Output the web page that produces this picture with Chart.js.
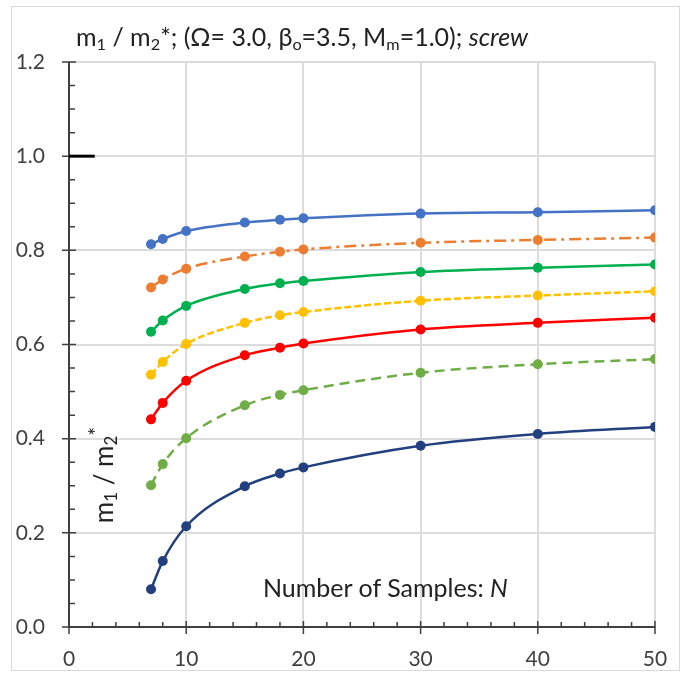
<!DOCTYPE html>
<html>
<head>
<meta charset="utf-8">
<script src="https://cdn.jsdelivr.net/npm/chart.js@4.4.1/dist/chart.umd.min.js"></script>
<style>
  html, body { margin: 0; padding: 0; background: #fff; }
  #wrap { position: relative; width: 689px; height: 673px; font-family: Lato, "Open Sans", sans-serif; color: #222; }
  #frame { position: absolute; left: 11px; top: 6px; width: 669px; height: 665px; border: 1px solid #d9d9d9; box-sizing: border-box; }
  canvas { position: absolute; left: 0; top: 0; }
  .txt { position: absolute; white-space: nowrap; }
  #title { left: 76px; top: 21px; font-size: 25px; line-height: 30px; }
  #xlab { left: 263px; top: 572px; font-size: 25px; line-height: 30px; }
  #ylab { left: 38px; top: 460px; width: 130px; text-align: center; font-size: 26px; line-height: 30px; transform: rotate(-90deg); }
  sub { font-size: 65%; vertical-align: -0.25em; line-height: 0; }
  sup { font-size: 80%; vertical-align: 0.45em; line-height: 0; }
</style>
</head>
<body>
<div id="wrap">
  <div id="frame"></div>
  <canvas id="chart" width="689" height="673"></canvas>
  <div class="txt" id="title">m<sub>1</sub> / m<sub>2</sub>*; (&Omega;= 3.0, &beta;<sub>o</sub>=3.5, M<sub>m</sub>=1.0); <i>screw</i></div>
  <div class="txt" id="xlab">Number of Samples: <i>N</i></div>
  <div class="txt" id="ylab">m<sub>1</sub> / m<sub>2</sub><sup>*</sup></div>
</div>
<script>
// sample counts on the x axis
const samples = [7, 8, 10, 15, 18, 20, 30, 40, 50];

// ratio m1/m2* for each curve, top to bottom
const blueVals    = [0.813, 0.824, 0.841, 0.859, 0.865, 0.868, 0.878, 0.881, 0.885];
const orangeVals  = [0.721, 0.738, 0.761, 0.787, 0.797, 0.802, 0.816, 0.822, 0.827];
const greenVals   = [0.627, 0.651, 0.682, 0.718, 0.730, 0.735, 0.754, 0.763, 0.770];
const yellowVals  = [0.536, 0.563, 0.601, 0.646, 0.662, 0.669, 0.693, 0.704, 0.713];
const redVals     = [0.441, 0.476, 0.523, 0.577, 0.593, 0.602, 0.632, 0.646, 0.657];
const ltGreenVals = [0.301, 0.346, 0.401, 0.471, 0.493, 0.503, 0.540, 0.558, 0.569];
const navyVals    = [0.080, 0.140, 0.214, 0.299, 0.326, 0.339, 0.385, 0.410, 0.425];

// reference mark at 1.0
const refX = [0, 2.2];
const refY = [1.0, 1.0];

const xTicks = [0, 10, 20, 30, 40, 50];
const yTicks = [0, 0.2, 0.4, 0.6, 0.8, 1.0, 1.2];

const pts = vals => vals.map((v, i) => ({x: samples[i], y: v}));

function series(vals, color, dash) {
    return {
        data: pts(vals),
        borderColor: color,
        backgroundColor: color,
        borderWidth: 2.5,
        borderDash: dash,
        pointRadius: 5,
        pointHoverRadius: 5,
        pointBorderWidth: 0,
        cubicInterpolationMode: 'monotone'
    };
}

const AXIS = '#404040';

// axis lines with major/minor tick marks
const axesPlugin = {
    id: 'axes',
    beforeDatasetsDraw(chart) {
        const {ctx, scales: {x, y}} = chart;
        const x0 = x.getPixelForValue(0), y0 = y.getPixelForValue(0);
        ctx.save();
        ctx.strokeStyle = AXIS;
        ctx.lineWidth = 2;
        ctx.beginPath();
        ctx.moveTo(x0, y.getPixelForValue(1.2));
        ctx.lineTo(x0, y0);
        ctx.lineTo(x.getPixelForValue(50), y0);
        ctx.stroke();
        ctx.lineWidth = 1.5;
        ctx.beginPath();
        for (let v = 0; v <= 50.001; v += 2) {
            const px = x.getPixelForValue(v);
            if (v % 10 === 0) { ctx.moveTo(px, y0 - 6); ctx.lineTo(px, y0 + 7); }
            else { ctx.moveTo(px, y0 - 5); ctx.lineTo(px, y0); }
        }
        for (let k = 0; k <= 24; k++) {
            const py = y.getPixelForValue(k * 0.05);
            if (k % 4 === 0) { ctx.moveTo(x0 - 7, py); ctx.lineTo(x0 + 7, py); }
            else { ctx.moveTo(x0, py); ctx.lineTo(x0 + 6, py); }
        }
        ctx.stroke();
        ctx.restore();
    }
};

new Chart(document.getElementById('chart'), {
    type: 'line',
    data: {
        datasets: [
            {
                data: refX.map((v, i) => ({x: v, y: refY[i]})),
                borderColor: '#000',
                borderWidth: 3,
                pointRadius: 0,
                borderCapStyle: 'butt'
            },
            series(blueVals, '#4472C4', []),
            series(orangeVals, '#ED7D31', [12, 5, 3, 5]),
            series(greenVals, '#00B050', []),
            series(yellowVals, '#FFC000', [7, 3]),
            series(redVals, '#FF0000', []),
            series(ltGreenVals, '#70AD47', [10, 6]),
            series(navyVals, '#223F7E', [])
        ]
    },
    options: {
        responsive: false,
        animation: false,
        layout: { padding: { left: 0, top: 62, right: 34, bottom: 0 } },
        plugins: { legend: { display: false }, tooltip: { enabled: false } },
        scales: {
            x: {
                type: 'linear',
                min: 0, max: 50,
                afterFit: s => { s.height = 46; },
                afterBuildTicks: s => { s.ticks = xTicks.map(v => ({value: v})); },
                grid: { color: '#dcdcdc', lineWidth: 2, drawTicks: false },
                border: { display: false },
                ticks: { color: AXIS, padding: 20, font: { family: 'Lato', size: 21 } }
            },
            y: {
                min: 0, max: 1.2,
                afterFit: s => { s.width = 69; },
                afterBuildTicks: s => { s.ticks = yTicks.map(v => ({value: v})); },
                grid: { color: '#dcdcdc', lineWidth: 2, drawTicks: false },
                border: { display: false },
                ticks: { color: AXIS, padding: 24, font: { family: 'Lato', size: 21 }, callback: v => v.toFixed(1) }
            }
        }
    },
    plugins: [axesPlugin]
});
</script>
</body>
</html>
